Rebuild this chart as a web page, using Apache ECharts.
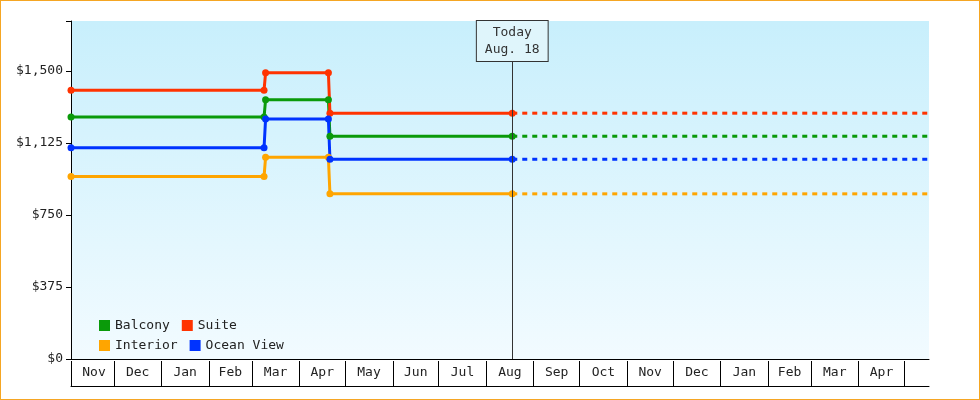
<!DOCTYPE html>
<html><head><meta charset="utf-8">
<script src="https://cdn.jsdelivr.net/npm/echarts@6/dist/echarts.min.js"></script>
<style>body{margin:0}#c{width:978px;height:398px;border:1px solid #f5a623}</style>
</head><body><div id="c"></div>
<script>
const startDate = '2024-11-03';
const endDate = '2026-05-17';
const todayDate = '2025-08-18';
const changeDates = ['2024-11-03','2025-03-09','2025-03-10','2025-04-20','2025-04-21','2025-08-18'];
const names = ['Balcony','Suite','Interior','Ocean View'];
const colors = ['#0a9a0a','#ff3300','#ffa500','#0033ff'];
const balcony  = [1260,1260,1350,1350,1160,1160];
const suite    = [1400,1400,1490,1490,1280,1280];
const interior = [950,950,1050,1050,860,860];
const ocean    = [1100,1100,1250,1250,1040,1040];
const monthStarts = ['2024-11-03','2024-12-01','2025-01-01','2025-02-01','2025-03-01','2025-04-01','2025-05-01','2025-06-01','2025-07-01','2025-08-01','2025-09-01','2025-10-01','2025-11-01','2025-12-01','2026-01-01','2026-02-01','2026-03-01','2026-04-01','2026-05-01'];
const monthLabels = ['Nov','Dec','Jan','Feb','Mar','Apr','May','Jun','Jul','Aug','Sep','Oct','Nov','Dec','Jan','Feb','Mar','Apr'];
const yTicks = [0,375,750,1125,1500];

const day = s => Math.round((Date.parse(s) - Date.parse(startDate)) / 86400000);
const xMax = day(endDate), xToday = day(todayDate);
const tickVals = monthStarts.map(day);
const labelVals = monthLabels.map((m,i) => (tickVals[i] + (i+1 < tickVals.length ? tickVals[i+1] : xMax)) / 2 + (i===0?1:0));
const allVals = [balcony, suite, interior, ocean];
const font = 'DejaVu Sans Mono';
const series = [];
allVals.forEach((vals,i) => {
  series.push({name:names[i], type:'line', xAxisIndex:0, yAxisIndex:0,
    data: vals.map((v,j)=>[day(changeDates[j]), v]),
    symbol:'circle', symbolSize:7, lineStyle:{width:3,color:colors[i]}, itemStyle:{color:colors[i]}, z:3,
    markLine: i===0 ? {silent:true, symbol:'none', lineStyle:{color:'#333',width:1,type:'solid'},
      label:{position:'end', distance:0, formatter:'Today\nAug. 18', fontFamily:font, fontSize:13, color:'#333', lineHeight:17,
        backgroundColor:'#dff5fb', borderColor:'#333', borderWidth:1, padding:[3,8]},
      data:[[{coord:[xToday,0]},{coord:[xToday,1552]}]]} : undefined});
  series.push({name:names[i], type:'line', xAxisIndex:0, yAxisIndex:0,
    data:[[xToday, vals[vals.length-1]],[xMax, vals[vals.length-1]]],
    symbol:'none', lineStyle:{width:3,type:[5,5],color:colors[i]}, itemStyle:{color:colors[i]}});
});
const chart = echarts.init(document.getElementById('c'));
chart.setOption({
  animation:false,
  textStyle:{fontFamily:font},
  grid:[{left:70,right:50,top:20,bottom:40,show:true,borderWidth:0,
    backgroundColor:new echarts.graphic.LinearGradient(0,0,0,1,[{offset:0,color:'#c8effc'},{offset:1,color:'#f2fbff'}])},
    {left:70,right:50,top:360,height:25}],
  legend:[
    {data:['Balcony','Suite'], left:93, top:313, icon:'rect', itemWidth:11, itemHeight:11, itemGap:12,
      textStyle:{fontFamily:font,fontSize:13,color:'#222',width:60}},
    {data:['Interior','Ocean View'], left:93, top:333, icon:'rect', itemWidth:11, itemHeight:11, itemGap:12,
      textStyle:{fontFamily:font,fontSize:13,color:'#222',width:60}}],
  xAxis:[
    {type:'value', gridIndex:0, min:0, max:xMax, axisLine:{show:true,onZero:false,lineStyle:{color:'#000'}},
      axisTick:{show:false}, axisLabel:{show:false}, splitLine:{show:false}},
    {type:'value', gridIndex:1, min:0, max:xMax, position:'bottom',
      axisLine:{show:true,lineStyle:{color:'#000'}},
      axisTick:{show:true,inside:true,length:25,customValues:tickVals,lineStyle:{color:'#000'}},
      axisLabel:{inside:true,margin:7,customValues:labelVals,fontFamily:font,fontSize:13,color:'#222',
        formatter:(v)=>{const i=labelVals.findIndex(x=>Math.abs(x-v)<0.01);return i>=0?monthLabels[i]:'';}},
      splitLine:{show:false}}],
  yAxis:[{type:'value', gridIndex:0, min:0, max:1760, interval:375,
    axisLine:{show:true,lineStyle:{color:'#000'}}, axisTick:{show:true,length:5,lineStyle:{color:'#000'}},
    axisLabel:{fontFamily:font,fontSize:13,color:'#222',margin:8,
      formatter:v=>yTicks.includes(v)?'$'+v.toLocaleString('en-US'):''}, splitLine:{show:false}},
    {type:'value', gridIndex:1, show:false}],
  series
});
</script></body></html>
